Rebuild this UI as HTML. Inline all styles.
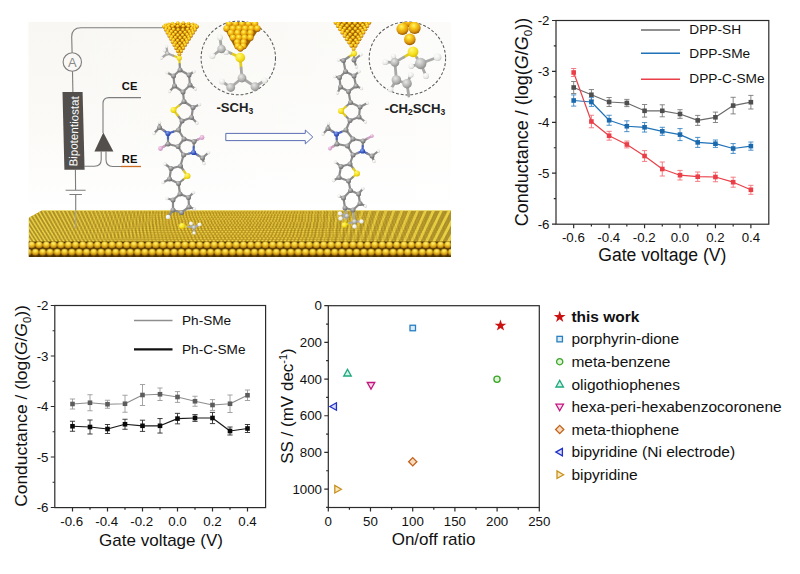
<!DOCTYPE html>
<html><head><meta charset="utf-8"><title>Figure</title>
<style>
html,body{margin:0;padding:0;background:#fff;}
body{width:800px;height:574px;overflow:hidden;font-family:"Liberation Sans",sans-serif;}
svg{display:block;}
</style></head><body>
<svg width="800" height="574" viewBox="0 0 800 574">

<defs>
<linearGradient id="pbg" x1="0" y1="0" x2="0" y2="1">
<stop offset="0" stop-color="#f8f7f3"/><stop offset="0.45" stop-color="#fbfaf7"/><stop offset="0.8" stop-color="#ffffff"/><stop offset="1" stop-color="#ffffff"/>
</linearGradient>
<linearGradient id="pbg2" x1="0" y1="0" x2="1" y2="0">
<stop offset="0" stop-color="#ffffff" stop-opacity="0"/><stop offset="0.5" stop-color="#ffffff" stop-opacity="0.25"/><stop offset="1" stop-color="#ffffff" stop-opacity="0.55"/>
</linearGradient>
<radialGradient id="gC" cx="0.38" cy="0.32" r="0.75"><stop offset="0" stop-color="#c9c9c9"/><stop offset="0.55" stop-color="#8f8f8f"/><stop offset="1" stop-color="#5e5e5e"/></radialGradient>
<radialGradient id="gL" cx="0.38" cy="0.32" r="0.8"><stop offset="0" stop-color="#e8e8e6"/><stop offset="0.55" stop-color="#b4b4b2"/><stop offset="1" stop-color="#7c7c7a"/></radialGradient>
<radialGradient id="gH" cx="0.38" cy="0.32" r="0.8"><stop offset="0" stop-color="#ffffff"/><stop offset="0.6" stop-color="#e9e9e6"/><stop offset="1" stop-color="#b9b9b4"/></radialGradient>
<radialGradient id="gS" cx="0.38" cy="0.32" r="0.8"><stop offset="0" stop-color="#fff87a"/><stop offset="0.55" stop-color="#f6e01c"/><stop offset="1" stop-color="#cfae08"/></radialGradient>
<radialGradient id="gN" cx="0.38" cy="0.32" r="0.8"><stop offset="0" stop-color="#8aa2ec"/><stop offset="0.55" stop-color="#3c5cc4"/><stop offset="1" stop-color="#1f3590"/></radialGradient>
<radialGradient id="gO" cx="0.38" cy="0.32" r="0.8"><stop offset="0" stop-color="#f6d6ee"/><stop offset="0.6" stop-color="#dca6cf"/><stop offset="1" stop-color="#b980ac"/></radialGradient>
<radialGradient id="gA" cx="0.42" cy="0.3" r="0.72"><stop offset="0" stop-color="#fff470"/><stop offset="0.3" stop-color="#fad022"/><stop offset="0.68" stop-color="#e09a0a"/><stop offset="1" stop-color="#8a4c00"/></radialGradient>
<radialGradient id="gF" cx="0.48" cy="0.26" r="0.8"><stop offset="0" stop-color="#fff384"/><stop offset="0.33" stop-color="#f7d232"/><stop offset="0.7" stop-color="#c89010"/><stop offset="1" stop-color="#5e3a02"/></radialGradient>
<radialGradient id="gT" cx="0.5" cy="0.35" r="0.65"><stop offset="0" stop-color="#f6e05a"/><stop offset="0.55" stop-color="#dcb830"/><stop offset="1" stop-color="#ae8a1c"/></radialGradient>
<filter id="bl" x="-5%" y="-5%" width="110%" height="110%"><feGaussianBlur stdDeviation="0.45"/></filter>
<filter id="bl2" x="-5%" y="-5%" width="110%" height="110%"><feGaussianBlur stdDeviation="0.35"/></filter>
<clipPath id="pc"><rect x="28.5" y="22" width="422.5" height="236"/></clipPath>
</defs>

<rect width="800" height="574" fill="#fff"/>
<rect x="28.5" y="22" width="422.5" height="236" fill="url(#pbg)"/>
<rect x="28.5" y="22" width="422.5" height="236" fill="url(#pbg2)"/>
<g fill="none" stroke="#7d7d7d" stroke-width="1.1">
<path d="M162.5 27.7H81Q71.7 27.7 71.7 36.8L72.1 52.8"/>
<circle cx="72.3" cy="62" r="9.2"/>
<path d="M72.5 71.2L72.9 92"/>
<path d="M75.4 169.5L75.6 190.2M65.6 190.2H85.6M69.4 194.5H81.9"/>
<path d="M141 97.6H109Q103 97.6 103 103.6V133"/>
<path d="M84.4 166.2H94.5Q101.2 166.2 101.2 159.5V151.4"/>
<path d="M106 151.4V159.5Q106 166.5 112.8 166.5H121.5"/>
</g>
<path d="M120.8 166.5H141" stroke="#cc6a22" stroke-width="1.3"/>
<text x="72.3" y="66.6" font-size="13" text-anchor="middle" fill="#8a8a8a" font-family="Liberation Sans, sans-serif">A</text>
<polygon points="62.5,91.9 82.6,91.9 84.6,169.7 64.4,169.7" fill="#524f4d"/>
<text transform="translate(78 131.5) rotate(-88.6)" font-size="11.6" text-anchor="middle" fill="#fff" font-family="Liberation Sans, sans-serif">Bipotentiostat</text>
<polygon points="103.3,132.4 113.4,151.6 94.4,151.6" fill="#524f4d"/>
<text x="121.8" y="90" font-size="11.2" font-weight="bold" fill="#111" font-family="Liberation Sans, sans-serif">CE</text>
<text x="121.8" y="162.5" font-size="11.2" font-weight="bold" fill="#111" font-family="Liberation Sans, sans-serif">RE</text>
<defs><clipPath id="tf"><polygon points="28.5,217.8 42,210.2 451,210.2 451,243 28.5,243"/></clipPath><linearGradient id="mg" x1="28.5" y1="0" x2="451" y2="0" gradientUnits="userSpaceOnUse"><stop offset="0" stop-color="#fff" stop-opacity="0.12"/><stop offset="0.2" stop-color="#fff" stop-opacity="0.5"/><stop offset="0.4" stop-color="#fff" stop-opacity="1"/><stop offset="0.6" stop-color="#fff" stop-opacity="1"/><stop offset="0.8" stop-color="#fff" stop-opacity="0.5"/><stop offset="1" stop-color="#fff" stop-opacity="0.12"/></linearGradient><mask id="mk" maskUnits="userSpaceOnUse" x="28" y="205" width="424" height="40"><rect x="28" y="205" width="424" height="40" fill="url(#mg)"/></mask><pattern id="sr0" x="2.52" y="209.93" width="2.95" height="2.8" patternUnits="userSpaceOnUse"><ellipse cx="1.48" cy="1.4" rx="1.39" ry="1.29" fill="url(#gT)"/></pattern><pattern id="sr1" x="2.44" y="211.79" width="3.01" height="2.85" patternUnits="userSpaceOnUse"><ellipse cx="1.5" cy="1.43" rx="1.41" ry="1.31" fill="url(#gT)"/></pattern><pattern id="sr2" x="2.52" y="213.69" width="3.06" height="2.91" patternUnits="userSpaceOnUse"><ellipse cx="1.53" cy="1.45" rx="1.44" ry="1.34" fill="url(#gT)"/></pattern><pattern id="sr3" x="2.77" y="215.62" width="3.12" height="2.96" patternUnits="userSpaceOnUse"><ellipse cx="1.56" cy="1.48" rx="1.47" ry="1.36" fill="url(#gT)"/></pattern><pattern id="sr4" x="0.02" y="217.58" width="3.18" height="3.02" patternUnits="userSpaceOnUse"><ellipse cx="1.59" cy="1.51" rx="1.49" ry="1.39" fill="url(#gT)"/></pattern><pattern id="sr5" x="0.56" y="219.58" width="3.24" height="3.07" patternUnits="userSpaceOnUse"><ellipse cx="1.62" cy="1.54" rx="1.52" ry="1.41" fill="url(#gT)"/></pattern><pattern id="sr6" x="1.27" y="221.62" width="3.29" height="3.13" patternUnits="userSpaceOnUse"><ellipse cx="1.65" cy="1.56" rx="1.55" ry="1.44" fill="url(#gT)"/></pattern><pattern id="sr7" x="2.15" y="223.7" width="3.35" height="3.18" patternUnits="userSpaceOnUse"><ellipse cx="1.68" cy="1.59" rx="1.57" ry="1.46" fill="url(#gT)"/></pattern><pattern id="sr8" x="3.2" y="225.81" width="3.41" height="3.23" patternUnits="userSpaceOnUse"><ellipse cx="1.7" cy="1.62" rx="1.6" ry="1.49" fill="url(#gT)"/></pattern><pattern id="sr9" x="0.96" y="227.96" width="3.46" height="3.29" patternUnits="userSpaceOnUse"><ellipse cx="1.73" cy="1.64" rx="1.63" ry="1.51" fill="url(#gT)"/></pattern><pattern id="sr10" x="2.3" y="230.14" width="3.52" height="3.34" patternUnits="userSpaceOnUse"><ellipse cx="1.76" cy="1.67" rx="1.66" ry="1.54" fill="url(#gT)"/></pattern><pattern id="sr11" x="0.24" y="232.36" width="3.58" height="3.4" patternUnits="userSpaceOnUse"><ellipse cx="1.79" cy="1.7" rx="1.68" ry="1.56" fill="url(#gT)"/></pattern><pattern id="sr12" x="1.86" y="234.61" width="3.64" height="3.45" patternUnits="userSpaceOnUse"><ellipse cx="1.82" cy="1.73" rx="1.71" ry="1.59" fill="url(#gT)"/></pattern><pattern id="sr13" x="3.66" y="236.91" width="3.69" height="3.51" patternUnits="userSpaceOnUse"><ellipse cx="1.85" cy="1.75" rx="1.74" ry="1.61" fill="url(#gT)"/></pattern><pattern id="sr14" x="1.88" y="239.23" width="3.75" height="3.56" patternUnits="userSpaceOnUse"><ellipse cx="1.88" cy="1.78" rx="1.76" ry="1.64" fill="url(#gT)"/></pattern><pattern id="fr0" x="20.75" y="241.1" width="7.3" height="8" patternUnits="userSpaceOnUse"><circle cx="3.65" cy="4" r="3.6" fill="url(#gF)"/></pattern><pattern id="fr1" x="24.4" y="248.3" width="7.3" height="8" patternUnits="userSpaceOnUse"><circle cx="3.65" cy="4" r="3.6" fill="url(#gF)"/></pattern></defs><g clip-path="url(#pc)"><g filter="url(#bl2)"><g clip-path="url(#tf)"><polygon points="28.5,217.8 42,210.2 451,210.2 451,243 28.5,243" fill="#a88e2a"/><path d="M221.5 242.6L219.56 210M228.8 242.6L227.62 210M236.1 242.6L235.69 210M243.4 242.6L243.69 210M250.7 242.6L251.61 210M258 242.6L259.53 210M265.3 242.6L267.45 210M272.6 242.6L275.37 210M279.9 242.6L283.29 210M287.2 242.6L291.21 210M294.5 242.6L299.13 210M301.8 242.6L307.05 210M309.1 242.6L314.97 210M316.4 242.6L322.89 210M323.7 242.6L330.81 210M331 242.6L338.74 210M338.3 242.6L346.66 210M345.6 242.6L354.58 210M352.9 242.6L362.5 210M360.2 242.6L370.42 210M367.5 242.6L378.34 210M374.8 242.6L386.26 210M382.1 242.6L394.18 210M389.4 242.6L402.1 210M396.7 242.6L410.02 210M404 242.6L417.94 210M411.3 242.6L425.86 210M418.6 242.6L433.78 210M425.9 242.6L441.7 210M433.2 242.6L449.62 210M440.5 242.6L457.54 210M447.8 242.6L465.46 210M455.1 242.6L473.38 210M462.4 242.6L481.3 210M469.7 242.6L489.22 210M477 242.6L497.14 210" stroke="#f0d648" stroke-width="2.7" fill="none"/><path d="M17.1 242.6L-6.3 210M20.75 242.6L-2.27 210M24.4 242.6L1.76 210M28.05 242.6L5.8 210M31.7 242.6L9.83 210M35.35 242.6L13.86 210M39 242.6L17.9 210M42.65 242.6L21.93 210M46.3 242.6L25.96 210M49.95 242.6L29.99 210M53.6 242.6L34.03 210M57.25 242.6L38.06 210M60.9 242.6L42.09 210M64.55 242.6L46.13 210M68.2 242.6L50.16 210M71.85 242.6L54.19 210M75.5 242.6L58.23 210M79.15 242.6L62.26 210M82.8 242.6L66.29 210M86.45 242.6L70.33 210M90.1 242.6L74.36 210M93.75 242.6L78.39 210M97.4 242.6L82.43 210M101.05 242.6L86.46 210M104.7 242.6L90.49 210M108.35 242.6L94.53 210M112 242.6L98.56 210M115.65 242.6L102.59 210M119.3 242.6L106.63 210M122.95 242.6L110.66 210M126.6 242.6L114.69 210M130.25 242.6L118.73 210M133.9 242.6L122.76 210M137.55 242.6L126.79 210M141.2 242.6L130.83 210M144.85 242.6L134.86 210M148.5 242.6L138.89 210M152.15 242.6L142.93 210M155.8 242.6L146.96 210M159.45 242.6L150.99 210M163.1 242.6L155.03 210M166.75 242.6L159.06 210M170.4 242.6L163.09 210M174.05 242.6L167.13 210M177.7 242.6L171.16 210M181.35 242.6L175.19 210M185 242.6L179.22 210M188.65 242.6L183.26 210M192.3 242.6L187.29 210M195.95 242.6L191.32 210M199.6 242.6L195.36 210M203.25 242.6L199.39 210M206.9 242.6L203.42 210M210.55 242.6L207.46 210M214.2 242.6L211.49 210M217.85 242.6L215.52 210" stroke="#f0d648" stroke-width="1.5" fill="none"/></g>
<g clip-path="url(#tf)"><g mask="url(#mk)"><polygon points="28.5,217.8 42,210.2 451,210.2 451,243 28.5,243" fill="#8a690c"/><rect x="28.5" y="209.93" width="422.5" height="2.8" fill="url(#sr0)"/><rect x="28.5" y="211.79" width="422.5" height="2.85" fill="url(#sr1)"/><rect x="28.5" y="213.69" width="422.5" height="2.91" fill="url(#sr2)"/><rect x="28.5" y="215.62" width="422.5" height="2.96" fill="url(#sr3)"/><rect x="28.5" y="217.58" width="422.5" height="3.02" fill="url(#sr4)"/><rect x="28.5" y="219.58" width="422.5" height="3.07" fill="url(#sr5)"/><rect x="28.5" y="221.62" width="422.5" height="3.13" fill="url(#sr6)"/><rect x="28.5" y="223.7" width="422.5" height="3.18" fill="url(#sr7)"/><rect x="28.5" y="225.81" width="422.5" height="3.23" fill="url(#sr8)"/><rect x="28.5" y="227.96" width="422.5" height="3.29" fill="url(#sr9)"/><rect x="28.5" y="230.14" width="422.5" height="3.34" fill="url(#sr10)"/><rect x="28.5" y="232.36" width="422.5" height="3.4" fill="url(#sr11)"/><rect x="28.5" y="234.61" width="422.5" height="3.45" fill="url(#sr12)"/><rect x="28.5" y="236.91" width="422.5" height="3.51" fill="url(#sr13)"/><rect x="28.5" y="239.23" width="422.5" height="3.56" fill="url(#sr14)"/></g></g>
<path d="M42 210.5H451" stroke="#f3e27a" stroke-width="0.9" opacity="0.8"/>
<rect x="28.5" y="241.6" width="422.5" height="15.4" fill="#4a2e02"/>
<rect x="28.5" y="241.1" width="422.5" height="8" fill="url(#fr0)"/>
<rect x="28.5" y="248.3" width="422.5" height="8" fill="url(#fr1)"/></g></g>
<path d="M75.7 194.5V210.5" stroke="#7d7d7d" stroke-width="1.1" fill="none"/><path d="M75.7 210.5V228.5" stroke="#a8a49a" stroke-width="1" fill="none"/>
<path d="M225.8 133.4H305.3V130L312.8 137L305.3 143.9V140.6H225.8Z" fill="#fdfdfb" stroke="#5a6eb2" stroke-width="1"/>
<ellipse cx="238.3" cy="58" rx="37.2" ry="36.8" fill="none" stroke="#5a5a5a" stroke-width="1.05" stroke-dasharray="2.9 1.9"/>
<ellipse cx="407.4" cy="58.4" rx="38.2" ry="36.5" fill="none" stroke="#5a5a5a" stroke-width="1.05" stroke-dasharray="2.9 1.9"/>
<g filter="url(#bl)"><path d="M164 26.6L179.4 54.15L197 26.6A16.5 3.6 0 0 0 164 26.6Z" fill="#9c6000"/>
<circle cx="164.5" cy="26.6" r="1.85" fill="url(#gA)"/>
<circle cx="165.46" cy="25.37" r="1.85" fill="url(#gA)"/>
<circle cx="168.24" cy="24.29" r="1.85" fill="url(#gA)"/>
<circle cx="172.5" cy="23.48" r="1.85" fill="url(#gA)"/>
<circle cx="177.72" cy="23.05" r="1.85" fill="url(#gA)"/>
<circle cx="183.28" cy="23.05" r="1.85" fill="url(#gA)"/>
<circle cx="188.5" cy="23.48" r="1.85" fill="url(#gA)"/>
<circle cx="192.76" cy="24.29" r="1.85" fill="url(#gA)"/>
<circle cx="195.54" cy="25.37" r="1.85" fill="url(#gA)"/>
<circle cx="196.5" cy="26.6" r="1.85" fill="url(#gA)"/>
<circle cx="164.5" cy="26.6" r="1.85" fill="url(#gA)"/>
<circle cx="165.71" cy="25.84" r="1.85" fill="url(#gA)"/>
<circle cx="169.18" cy="25.2" r="1.85" fill="url(#gA)"/>
<circle cx="174.38" cy="24.77" r="1.85" fill="url(#gA)"/>
<circle cx="180.5" cy="24.62" r="1.85" fill="url(#gA)"/>
<circle cx="186.62" cy="24.77" r="1.85" fill="url(#gA)"/>
<circle cx="191.82" cy="25.2" r="1.85" fill="url(#gA)"/>
<circle cx="195.29" cy="25.84" r="1.85" fill="url(#gA)"/>
<circle cx="196.5" cy="26.6" r="1.85" fill="url(#gA)"/>
<circle cx="164.5" cy="26.6" r="1.85" fill="url(#gA)"/>
<circle cx="165.46" cy="26.48" r="1.85" fill="url(#gA)"/>
<circle cx="168.24" cy="26.37" r="1.85" fill="url(#gA)"/>
<circle cx="172.5" cy="26.29" r="1.85" fill="url(#gA)"/>
<circle cx="177.72" cy="26.25" r="1.85" fill="url(#gA)"/>
<circle cx="183.28" cy="26.25" r="1.85" fill="url(#gA)"/>
<circle cx="188.5" cy="26.29" r="1.85" fill="url(#gA)"/>
<circle cx="192.76" cy="26.37" r="1.85" fill="url(#gA)"/>
<circle cx="195.54" cy="26.48" r="1.85" fill="url(#gA)"/>
<circle cx="196.5" cy="26.6" r="1.85" fill="url(#gA)"/>
<circle cx="164" cy="26.6" r="1.85" fill="url(#gA)"/>
<circle cx="166.2" cy="27.71" r="1.85" fill="url(#gA)"/>
<circle cx="169.42" cy="28.68" r="1.85" fill="url(#gA)"/>
<circle cx="173.49" cy="29.41" r="1.85" fill="url(#gA)"/>
<circle cx="178.1" cy="29.79" r="1.85" fill="url(#gA)"/>
<circle cx="182.9" cy="29.79" r="1.85" fill="url(#gA)"/>
<circle cx="187.51" cy="29.41" r="1.85" fill="url(#gA)"/>
<circle cx="191.58" cy="28.68" r="1.85" fill="url(#gA)"/>
<circle cx="194.8" cy="27.71" r="1.85" fill="url(#gA)"/>
<circle cx="197" cy="26.6" r="1.85" fill="url(#gA)"/>
<circle cx="165.71" cy="29.66" r="1.85" fill="url(#gA)"/>
<circle cx="167.98" cy="30.76" r="1.85" fill="url(#gA)"/>
<circle cx="171.37" cy="31.7" r="1.85" fill="url(#gA)"/>
<circle cx="175.64" cy="32.32" r="1.85" fill="url(#gA)"/>
<circle cx="180.38" cy="32.54" r="1.85" fill="url(#gA)"/>
<circle cx="185.11" cy="32.32" r="1.85" fill="url(#gA)"/>
<circle cx="189.38" cy="31.7" r="1.85" fill="url(#gA)"/>
<circle cx="192.78" cy="30.76" r="1.85" fill="url(#gA)"/>
<circle cx="195.04" cy="29.66" r="1.85" fill="url(#gA)"/>
<circle cx="167.42" cy="32.72" r="1.85" fill="url(#gA)"/>
<circle cx="169.77" cy="33.82" r="1.85" fill="url(#gA)"/>
<circle cx="173.38" cy="34.69" r="1.85" fill="url(#gA)"/>
<circle cx="177.86" cy="35.18" r="1.85" fill="url(#gA)"/>
<circle cx="182.65" cy="35.18" r="1.85" fill="url(#gA)"/>
<circle cx="187.13" cy="34.69" r="1.85" fill="url(#gA)"/>
<circle cx="190.74" cy="33.82" r="1.85" fill="url(#gA)"/>
<circle cx="193.09" cy="32.72" r="1.85" fill="url(#gA)"/>
<circle cx="169.13" cy="35.78" r="1.85" fill="url(#gA)"/>
<circle cx="171.59" cy="36.86" r="1.85" fill="url(#gA)"/>
<circle cx="175.46" cy="37.65" r="1.85" fill="url(#gA)"/>
<circle cx="180.13" cy="37.94" r="1.85" fill="url(#gA)"/>
<circle cx="184.81" cy="37.65" r="1.85" fill="url(#gA)"/>
<circle cx="188.67" cy="36.86" r="1.85" fill="url(#gA)"/>
<circle cx="191.13" cy="35.78" r="1.85" fill="url(#gA)"/>
<circle cx="170.84" cy="38.84" r="1.85" fill="url(#gA)"/>
<circle cx="173.46" cy="39.9" r="1.85" fill="url(#gA)"/>
<circle cx="177.63" cy="40.56" r="1.85" fill="url(#gA)"/>
<circle cx="182.39" cy="40.56" r="1.85" fill="url(#gA)"/>
<circle cx="186.56" cy="39.9" r="1.85" fill="url(#gA)"/>
<circle cx="189.18" cy="38.84" r="1.85" fill="url(#gA)"/>
<circle cx="172.56" cy="41.91" r="1.85" fill="url(#gA)"/>
<circle cx="175.39" cy="42.92" r="1.85" fill="url(#gA)"/>
<circle cx="179.89" cy="43.35" r="1.85" fill="url(#gA)"/>
<circle cx="184.39" cy="42.92" r="1.85" fill="url(#gA)"/>
<circle cx="187.22" cy="41.91" r="1.85" fill="url(#gA)"/>
<circle cx="174.27" cy="44.97" r="1.85" fill="url(#gA)"/>
<circle cx="177.43" cy="45.9" r="1.85" fill="url(#gA)"/>
<circle cx="182.1" cy="45.9" r="1.85" fill="url(#gA)"/>
<circle cx="185.27" cy="44.97" r="1.85" fill="url(#gA)"/>
<circle cx="175.98" cy="48.03" r="1.85" fill="url(#gA)"/>
<circle cx="179.64" cy="48.75" r="1.85" fill="url(#gA)"/>
<circle cx="183.31" cy="48.03" r="1.85" fill="url(#gA)"/>
<circle cx="177.69" cy="51.09" r="1.85" fill="url(#gA)"/>
<circle cx="181.36" cy="51.09" r="1.85" fill="url(#gA)"/>
<circle cx="179.4" cy="54.15" r="1.85" fill="url(#gA)"/>
<g clip-path="url(#pc)">
<path d="M333.3 19.5L353.6 49.05L371.3 19.5A19 4.2 0 0 0 333.3 19.5Z" fill="#9c6000"/>
<circle cx="333.87" cy="19.5" r="1.95" fill="url(#gA)"/>
<circle cx="334.98" cy="18.06" r="1.95" fill="url(#gA)"/>
<circle cx="338.18" cy="16.8" r="1.95" fill="url(#gA)"/>
<circle cx="343.09" cy="15.86" r="1.95" fill="url(#gA)"/>
<circle cx="349.1" cy="15.36" r="1.95" fill="url(#gA)"/>
<circle cx="355.5" cy="15.36" r="1.95" fill="url(#gA)"/>
<circle cx="361.51" cy="15.86" r="1.95" fill="url(#gA)"/>
<circle cx="366.42" cy="16.8" r="1.95" fill="url(#gA)"/>
<circle cx="369.62" cy="18.06" r="1.95" fill="url(#gA)"/>
<circle cx="370.73" cy="19.5" r="1.95" fill="url(#gA)"/>
<circle cx="333.87" cy="19.5" r="1.95" fill="url(#gA)"/>
<circle cx="335.27" cy="18.62" r="1.95" fill="url(#gA)"/>
<circle cx="339.27" cy="17.87" r="1.95" fill="url(#gA)"/>
<circle cx="345.25" cy="17.37" r="1.95" fill="url(#gA)"/>
<circle cx="352.3" cy="17.19" r="1.95" fill="url(#gA)"/>
<circle cx="359.35" cy="17.37" r="1.95" fill="url(#gA)"/>
<circle cx="365.33" cy="17.87" r="1.95" fill="url(#gA)"/>
<circle cx="369.33" cy="18.62" r="1.95" fill="url(#gA)"/>
<circle cx="370.73" cy="19.5" r="1.95" fill="url(#gA)"/>
<circle cx="333.87" cy="19.5" r="1.95" fill="url(#gA)"/>
<circle cx="334.98" cy="19.36" r="1.95" fill="url(#gA)"/>
<circle cx="338.18" cy="19.23" r="1.95" fill="url(#gA)"/>
<circle cx="343.09" cy="19.14" r="1.95" fill="url(#gA)"/>
<circle cx="349.1" cy="19.09" r="1.95" fill="url(#gA)"/>
<circle cx="355.5" cy="19.09" r="1.95" fill="url(#gA)"/>
<circle cx="361.51" cy="19.14" r="1.95" fill="url(#gA)"/>
<circle cx="366.42" cy="19.23" r="1.95" fill="url(#gA)"/>
<circle cx="369.62" cy="19.36" r="1.95" fill="url(#gA)"/>
<circle cx="370.73" cy="19.5" r="1.95" fill="url(#gA)"/>
<circle cx="333.3" cy="19.5" r="1.95" fill="url(#gA)"/>
<circle cx="335.83" cy="20.79" r="1.95" fill="url(#gA)"/>
<circle cx="339.54" cy="21.93" r="1.95" fill="url(#gA)"/>
<circle cx="344.23" cy="22.77" r="1.95" fill="url(#gA)"/>
<circle cx="349.54" cy="23.22" r="1.95" fill="url(#gA)"/>
<circle cx="355.06" cy="23.22" r="1.95" fill="url(#gA)"/>
<circle cx="360.38" cy="22.77" r="1.95" fill="url(#gA)"/>
<circle cx="365.06" cy="21.93" r="1.95" fill="url(#gA)"/>
<circle cx="368.77" cy="20.79" r="1.95" fill="url(#gA)"/>
<circle cx="371.3" cy="19.5" r="1.95" fill="url(#gA)"/>
<circle cx="335.56" cy="22.78" r="1.95" fill="url(#gA)"/>
<circle cx="338.16" cy="24.07" r="1.95" fill="url(#gA)"/>
<circle cx="342.08" cy="25.16" r="1.95" fill="url(#gA)"/>
<circle cx="346.99" cy="25.89" r="1.95" fill="url(#gA)"/>
<circle cx="352.44" cy="26.14" r="1.95" fill="url(#gA)"/>
<circle cx="357.9" cy="25.89" r="1.95" fill="url(#gA)"/>
<circle cx="362.81" cy="25.16" r="1.95" fill="url(#gA)"/>
<circle cx="366.73" cy="24.07" r="1.95" fill="url(#gA)"/>
<circle cx="369.33" cy="22.78" r="1.95" fill="url(#gA)"/>
<circle cx="337.81" cy="26.07" r="1.95" fill="url(#gA)"/>
<circle cx="340.52" cy="27.34" r="1.95" fill="url(#gA)"/>
<circle cx="344.67" cy="28.37" r="1.95" fill="url(#gA)"/>
<circle cx="349.83" cy="28.93" r="1.95" fill="url(#gA)"/>
<circle cx="355.35" cy="28.93" r="1.95" fill="url(#gA)"/>
<circle cx="360.51" cy="28.37" r="1.95" fill="url(#gA)"/>
<circle cx="364.66" cy="27.34" r="1.95" fill="url(#gA)"/>
<circle cx="367.37" cy="26.07" r="1.95" fill="url(#gA)"/>
<circle cx="340.07" cy="29.35" r="1.95" fill="url(#gA)"/>
<circle cx="342.9" cy="30.61" r="1.95" fill="url(#gA)"/>
<circle cx="347.35" cy="31.53" r="1.95" fill="url(#gA)"/>
<circle cx="352.73" cy="31.87" r="1.95" fill="url(#gA)"/>
<circle cx="358.12" cy="31.53" r="1.95" fill="url(#gA)"/>
<circle cx="362.57" cy="30.61" r="1.95" fill="url(#gA)"/>
<circle cx="365.4" cy="29.35" r="1.95" fill="url(#gA)"/>
<circle cx="342.32" cy="32.63" r="1.95" fill="url(#gA)"/>
<circle cx="345.33" cy="33.87" r="1.95" fill="url(#gA)"/>
<circle cx="350.13" cy="34.63" r="1.95" fill="url(#gA)"/>
<circle cx="355.62" cy="34.63" r="1.95" fill="url(#gA)"/>
<circle cx="360.42" cy="33.87" r="1.95" fill="url(#gA)"/>
<circle cx="363.43" cy="32.63" r="1.95" fill="url(#gA)"/>
<circle cx="344.58" cy="35.92" r="1.95" fill="url(#gA)"/>
<circle cx="347.84" cy="37.1" r="1.95" fill="url(#gA)"/>
<circle cx="353.02" cy="37.6" r="1.95" fill="url(#gA)"/>
<circle cx="358.21" cy="37.1" r="1.95" fill="url(#gA)"/>
<circle cx="361.47" cy="35.92" r="1.95" fill="url(#gA)"/>
<circle cx="346.83" cy="39.2" r="1.95" fill="url(#gA)"/>
<circle cx="350.48" cy="40.29" r="1.95" fill="url(#gA)"/>
<circle cx="355.86" cy="40.29" r="1.95" fill="url(#gA)"/>
<circle cx="359.5" cy="39.2" r="1.95" fill="url(#gA)"/>
<circle cx="349.09" cy="42.48" r="1.95" fill="url(#gA)"/>
<circle cx="353.31" cy="43.32" r="1.95" fill="url(#gA)"/>
<circle cx="357.53" cy="42.48" r="1.95" fill="url(#gA)"/>
<circle cx="351.34" cy="45.77" r="1.95" fill="url(#gA)"/>
<circle cx="355.57" cy="45.77" r="1.95" fill="url(#gA)"/>
<circle cx="353.6" cy="49.05" r="1.95" fill="url(#gA)"/>
<path d="M224 27.5Q242 16 260 27.5L247 47L240.3 51.5L234.5 47Z" fill="#9c6000"/>
<circle cx="229" cy="24.0" r="3.3" fill="url(#gA)"/>
<circle cx="235.5" cy="24.0" r="3.3" fill="url(#gA)"/>
<circle cx="242" cy="24.0" r="3.3" fill="url(#gA)"/>
<circle cx="248.5" cy="24.0" r="3.3" fill="url(#gA)"/>
<circle cx="255" cy="24.0" r="3.3" fill="url(#gA)"/>
<circle cx="226.7" cy="28.6" r="3.4" fill="url(#gA)"/>
<circle cx="232.9" cy="28.6" r="3.4" fill="url(#gA)"/>
<circle cx="239" cy="28.6" r="3.4" fill="url(#gA)"/>
<circle cx="245.2" cy="28.6" r="3.4" fill="url(#gA)"/>
<circle cx="251.3" cy="28.6" r="3.4" fill="url(#gA)"/>
<circle cx="257.3" cy="28.6" r="3.4" fill="url(#gA)"/>
<circle cx="231" cy="33.2" r="3.4" fill="url(#gA)"/>
<circle cx="237.5" cy="33.2" r="3.4" fill="url(#gA)"/>
<circle cx="244" cy="33.2" r="3.4" fill="url(#gA)"/>
<circle cx="250.5" cy="33.2" r="3.4" fill="url(#gA)"/>
<circle cx="233" cy="37.8" r="3.3" fill="url(#gA)"/>
<circle cx="238.8" cy="37.8" r="3.3" fill="url(#gA)"/>
<circle cx="244.6" cy="37.8" r="3.3" fill="url(#gA)"/>
<circle cx="250.3" cy="37.8" r="3.3" fill="url(#gA)"/>
<circle cx="237.2" cy="42.4" r="3.3" fill="url(#gA)"/>
<circle cx="243.6" cy="42.4" r="3.3" fill="url(#gA)"/>
<circle cx="237.6" cy="46.3" r="3.2" fill="url(#gA)"/>
<circle cx="243.4" cy="46.3" r="3.2" fill="url(#gA)"/>
<circle cx="240.4" cy="48.4" r="3.1" fill="url(#gA)"/>
<circle cx="408.5" cy="21.5" r="5.6" fill="url(#gA)"/>
<circle cx="402.5" cy="29.0" r="6.1" fill="url(#gA)"/>
<circle cx="414.6" cy="28.0" r="6.1" fill="url(#gA)"/>
<circle cx="409.8" cy="39.4" r="5.8" fill="url(#gA)"/>
</g>
<path d="M179.3 58L173.4 55.75" stroke="#e2cc20" stroke-width="2.2" stroke-linecap="round"/>
<path d="M173.4 55.75L167.5 53.5" stroke="#a8a8a6" stroke-width="2.2" stroke-linecap="round"/>
<path d="M167.5 53.5L166.5 46.5" stroke="#a8a8a6" stroke-width="2.2" stroke-linecap="round"/>
<path d="M167.5 53.5L161.5 58" stroke="#a8a8a6" stroke-width="2.2" stroke-linecap="round"/>
<path d="M167.5 53.5L164.5 50.5" stroke="#a8a8a6" stroke-width="2.2" stroke-linecap="round"/>
<path d="M179.3 58L179.65 64" stroke="#e2cc20" stroke-width="2.2" stroke-linecap="round"/>
<path d="M179.65 64L180 70" stroke="#8c8c8c" stroke-width="2.2" stroke-linecap="round"/>
<path d="M180 70L189 75" stroke="#8c8c8c" stroke-width="2.2" stroke-linecap="round"/>
<path d="M189 75L190 85" stroke="#8c8c8c" stroke-width="2.2" stroke-linecap="round"/>
<path d="M190 85L183 92" stroke="#8c8c8c" stroke-width="2.2" stroke-linecap="round"/>
<path d="M183 92L174.5 86" stroke="#8c8c8c" stroke-width="2.2" stroke-linecap="round"/>
<path d="M174.5 86L173.5 76" stroke="#8c8c8c" stroke-width="2.2" stroke-linecap="round"/>
<path d="M173.5 76L180 70" stroke="#8c8c8c" stroke-width="2.2" stroke-linecap="round"/>
<path d="M189 75L194 71.5" stroke="#8c8c8c" stroke-width="2.2" stroke-linecap="round"/>
<path d="M190 85L195.5 89" stroke="#8c8c8c" stroke-width="2.2" stroke-linecap="round"/>
<path d="M174.5 86L169.5 91.5" stroke="#8c8c8c" stroke-width="2.2" stroke-linecap="round"/>
<path d="M173.5 76L167 72.5" stroke="#8c8c8c" stroke-width="2.2" stroke-linecap="round"/>
<path d="M183 92L184 101.5" stroke="#8c8c8c" stroke-width="2.2" stroke-linecap="round"/>
<path d="M184 101.5L178.75 105.75" stroke="#8c8c8c" stroke-width="2.2" stroke-linecap="round"/>
<path d="M178.75 105.75L173.5 110" stroke="#e2cc20" stroke-width="2.2" stroke-linecap="round"/>
<path d="M184 101.5L193 107.5" stroke="#8c8c8c" stroke-width="2.2" stroke-linecap="round"/>
<path d="M193 107.5L191.5 117.5" stroke="#8c8c8c" stroke-width="2.2" stroke-linecap="round"/>
<path d="M191.5 117.5L182 121" stroke="#8c8c8c" stroke-width="2.2" stroke-linecap="round"/>
<path d="M182 121L177.75 115.5" stroke="#8c8c8c" stroke-width="2.2" stroke-linecap="round"/>
<path d="M177.75 115.5L173.5 110" stroke="#e2cc20" stroke-width="2.2" stroke-linecap="round"/>
<path d="M193 107.5L199.5 104.5" stroke="#8c8c8c" stroke-width="2.2" stroke-linecap="round"/>
<path d="M191.5 117.5L197 123" stroke="#8c8c8c" stroke-width="2.2" stroke-linecap="round"/>
<path d="M182 121L178.5 130" stroke="#8c8c8c" stroke-width="2.2" stroke-linecap="round"/>
<path d="M178.5 130L173.25 131.75" stroke="#8c8c8c" stroke-width="2.2" stroke-linecap="round"/>
<path d="M173.25 131.75L168 133.5" stroke="#4a66c0" stroke-width="2.2" stroke-linecap="round"/>
<path d="M168 133.5L163.75 130.5" stroke="#4a66c0" stroke-width="2.2" stroke-linecap="round"/>
<path d="M163.75 130.5L159.5 127.5" stroke="#8c8c8c" stroke-width="2.2" stroke-linecap="round"/>
<path d="M159.5 127.5L159.5 122.5" stroke="#8c8c8c" stroke-width="2.2" stroke-linecap="round"/>
<path d="M159.5 127.5L154 133.5" stroke="#8c8c8c" stroke-width="2.2" stroke-linecap="round"/>
<path d="M178.5 130L184 139" stroke="#8c8c8c" stroke-width="2.2" stroke-linecap="round"/>
<path d="M184 139L194 141.5" stroke="#8c8c8c" stroke-width="2.2" stroke-linecap="round"/>
<path d="M194 141.5L198 139.5" stroke="#8c8c8c" stroke-width="2.2" stroke-linecap="round"/>
<path d="M198 139.5L202 137.5" stroke="#cfa0c4" stroke-width="2.2" stroke-linecap="round"/>
<path d="M194 141.5L193.75 147" stroke="#8c8c8c" stroke-width="2.2" stroke-linecap="round"/>
<path d="M193.75 147L193.5 152.5" stroke="#4a66c0" stroke-width="2.2" stroke-linecap="round"/>
<path d="M193.5 152.5L198 155.25" stroke="#4a66c0" stroke-width="2.2" stroke-linecap="round"/>
<path d="M198 155.25L202.5 158" stroke="#8c8c8c" stroke-width="2.2" stroke-linecap="round"/>
<path d="M202.5 158L208.5 152.5" stroke="#8c8c8c" stroke-width="2.2" stroke-linecap="round"/>
<path d="M202.5 158L204 163.5" stroke="#8c8c8c" stroke-width="2.2" stroke-linecap="round"/>
<path d="M193.5 152.5L188.5 153.75" stroke="#4a66c0" stroke-width="2.2" stroke-linecap="round"/>
<path d="M188.5 153.75L183.5 155" stroke="#8c8c8c" stroke-width="2.2" stroke-linecap="round"/>
<path d="M183.5 155L178 146.5" stroke="#8c8c8c" stroke-width="2.2" stroke-linecap="round"/>
<path d="M178 146.5L184 139" stroke="#8c8c8c" stroke-width="2.2" stroke-linecap="round"/>
<path d="M178 146.5L168 144" stroke="#8c8c8c" stroke-width="2.2" stroke-linecap="round"/>
<path d="M168 144L164.25 146.25" stroke="#8c8c8c" stroke-width="2.2" stroke-linecap="round"/>
<path d="M164.25 146.25L160.5 148.5" stroke="#cfa0c4" stroke-width="2.2" stroke-linecap="round"/>
<path d="M168 144L168 138.75" stroke="#8c8c8c" stroke-width="2.2" stroke-linecap="round"/>
<path d="M168 138.75L168 133.5" stroke="#4a66c0" stroke-width="2.2" stroke-linecap="round"/>
<path d="M183.5 155L180.5 166" stroke="#8c8c8c" stroke-width="2.2" stroke-linecap="round"/>
<path d="M180.5 166L184 171" stroke="#8c8c8c" stroke-width="2.2" stroke-linecap="round"/>
<path d="M184 171L187.5 176" stroke="#e2cc20" stroke-width="2.2" stroke-linecap="round"/>
<path d="M187.5 176L183 179.75" stroke="#e2cc20" stroke-width="2.2" stroke-linecap="round"/>
<path d="M183 179.75L178.5 183.5" stroke="#8c8c8c" stroke-width="2.2" stroke-linecap="round"/>
<path d="M178.5 183.5L169.5 179" stroke="#8c8c8c" stroke-width="2.2" stroke-linecap="round"/>
<path d="M169.5 179L171 168.5" stroke="#8c8c8c" stroke-width="2.2" stroke-linecap="round"/>
<path d="M171 168.5L180.5 166" stroke="#8c8c8c" stroke-width="2.2" stroke-linecap="round"/>
<path d="M171 168.5L165 164" stroke="#8c8c8c" stroke-width="2.2" stroke-linecap="round"/>
<path d="M169.5 179L163 182.5" stroke="#8c8c8c" stroke-width="2.2" stroke-linecap="round"/>
<path d="M178.5 183.5L180 194" stroke="#8c8c8c" stroke-width="2.2" stroke-linecap="round"/>
<path d="M180 194L188.5 197.5" stroke="#8c8c8c" stroke-width="2.2" stroke-linecap="round"/>
<path d="M188.5 197.5L189 207" stroke="#8c8c8c" stroke-width="2.2" stroke-linecap="round"/>
<path d="M189 207L181.5 212.5" stroke="#8c8c8c" stroke-width="2.2" stroke-linecap="round"/>
<path d="M181.5 212.5L173 210" stroke="#8c8c8c" stroke-width="2.2" stroke-linecap="round"/>
<path d="M173 210L173 200" stroke="#8c8c8c" stroke-width="2.2" stroke-linecap="round"/>
<path d="M173 200L180 194" stroke="#8c8c8c" stroke-width="2.2" stroke-linecap="round"/>
<path d="M188.5 197.5L193.5 192.5" stroke="#8c8c8c" stroke-width="2.2" stroke-linecap="round"/>
<path d="M173 200L167 198.5" stroke="#8c8c8c" stroke-width="2.2" stroke-linecap="round"/>
<path d="M189 207L194.5 209" stroke="#8c8c8c" stroke-width="2.2" stroke-linecap="round"/>
<path d="M173 210L168 217" stroke="#8c8c8c" stroke-width="2.2" stroke-linecap="round"/>
<path d="M182 226L188 226.75" stroke="#e2cc20" stroke-width="2.2" stroke-linecap="round"/>
<path d="M188 226.75L194 227.5" stroke="#a8a8a6" stroke-width="2.2" stroke-linecap="round"/>
<path d="M194 227.5L191 223.5" stroke="#a8a8a6" stroke-width="2.2" stroke-linecap="round"/>
<path d="M194 227.5L199.5 224.5" stroke="#a8a8a6" stroke-width="2.2" stroke-linecap="round"/>
<path d="M194 227.5L194 233" stroke="#a8a8a6" stroke-width="2.2" stroke-linecap="round"/>
<circle cx="166.5" cy="46.5" r="1.65" fill="url(#gH)"/>
<circle cx="161.5" cy="58" r="1.65" fill="url(#gH)"/>
<circle cx="164.5" cy="50.5" r="1.65" fill="url(#gH)"/>
<circle cx="194" cy="71.5" r="1.65" fill="url(#gH)"/>
<circle cx="195.5" cy="89" r="1.65" fill="url(#gH)"/>
<circle cx="169.5" cy="91.5" r="1.65" fill="url(#gH)"/>
<circle cx="167" cy="72.5" r="1.65" fill="url(#gH)"/>
<circle cx="199.5" cy="104.5" r="1.65" fill="url(#gH)"/>
<circle cx="197" cy="123" r="1.65" fill="url(#gH)"/>
<circle cx="159.5" cy="122.5" r="1.65" fill="url(#gH)"/>
<circle cx="154" cy="133.5" r="1.65" fill="url(#gH)"/>
<circle cx="208.5" cy="152.5" r="1.65" fill="url(#gH)"/>
<circle cx="204" cy="163.5" r="1.65" fill="url(#gH)"/>
<circle cx="165" cy="164" r="1.65" fill="url(#gH)"/>
<circle cx="163" cy="182.5" r="1.65" fill="url(#gH)"/>
<circle cx="193.5" cy="192.5" r="1.65" fill="url(#gH)"/>
<circle cx="167" cy="198.5" r="1.65" fill="url(#gH)"/>
<circle cx="194.5" cy="209" r="1.65" fill="url(#gH)"/>
<circle cx="168" cy="217" r="2.3" fill="url(#gH)"/>
<circle cx="191" cy="223.5" r="2" fill="url(#gH)"/>
<circle cx="199.5" cy="224.5" r="2" fill="url(#gH)"/>
<circle cx="194" cy="233" r="1.7" fill="url(#gH)"/>
<circle cx="167.5" cy="53.5" r="2" fill="url(#gL)"/>
<circle cx="180" cy="70" r="2.5" fill="url(#gC)"/>
<circle cx="189" cy="75" r="2.5" fill="url(#gC)"/>
<circle cx="190" cy="85" r="2.5" fill="url(#gC)"/>
<circle cx="183" cy="92" r="2.5" fill="url(#gC)"/>
<circle cx="174.5" cy="86" r="2.5" fill="url(#gC)"/>
<circle cx="173.5" cy="76" r="2.5" fill="url(#gC)"/>
<circle cx="184" cy="101.5" r="2.5" fill="url(#gC)"/>
<circle cx="193" cy="107.5" r="2.5" fill="url(#gC)"/>
<circle cx="191.5" cy="117.5" r="2.5" fill="url(#gC)"/>
<circle cx="182" cy="121" r="2.5" fill="url(#gC)"/>
<circle cx="178.5" cy="130" r="2.5" fill="url(#gC)"/>
<circle cx="159.5" cy="127.5" r="2.5" fill="url(#gC)"/>
<circle cx="184" cy="139" r="2.5" fill="url(#gC)"/>
<circle cx="194" cy="141.5" r="2.5" fill="url(#gC)"/>
<circle cx="202.5" cy="158" r="2.5" fill="url(#gC)"/>
<circle cx="183.5" cy="155" r="2.5" fill="url(#gC)"/>
<circle cx="178" cy="146.5" r="2.5" fill="url(#gC)"/>
<circle cx="168" cy="144" r="2.5" fill="url(#gC)"/>
<circle cx="180.5" cy="166" r="2.5" fill="url(#gC)"/>
<circle cx="178.5" cy="183.5" r="2.5" fill="url(#gC)"/>
<circle cx="169.5" cy="179" r="2.5" fill="url(#gC)"/>
<circle cx="171" cy="168.5" r="2.5" fill="url(#gC)"/>
<circle cx="180" cy="194" r="2.5" fill="url(#gC)"/>
<circle cx="188.5" cy="197.5" r="2.5" fill="url(#gC)"/>
<circle cx="189" cy="207" r="2.5" fill="url(#gC)"/>
<circle cx="181.5" cy="212.5" r="2.5" fill="url(#gC)"/>
<circle cx="173" cy="210" r="2.5" fill="url(#gC)"/>
<circle cx="173" cy="200" r="2.5" fill="url(#gC)"/>
<circle cx="194" cy="227.5" r="2" fill="url(#gL)"/>
<circle cx="168" cy="133.5" r="2.6" fill="url(#gN)"/>
<circle cx="202" cy="137.5" r="2.4" fill="url(#gO)"/>
<circle cx="193.5" cy="152.5" r="2.6" fill="url(#gN)"/>
<circle cx="160.5" cy="148.5" r="2.4" fill="url(#gO)"/>
<circle cx="179.3" cy="58" r="2.6" fill="url(#gS)"/>
<circle cx="173.5" cy="110" r="3" fill="url(#gS)"/>
<circle cx="187.5" cy="176" r="3" fill="url(#gS)"/>
<circle cx="182" cy="226" r="3" fill="url(#gS)"/>
<path d="M354 53.5L354 56.75" stroke="#e2cc20" stroke-width="2.2" stroke-linecap="round"/>
<path d="M354 56.75L354 60" stroke="#8c8c8c" stroke-width="2.2" stroke-linecap="round"/>
<path d="M354 53.5L348.75 57" stroke="#e2cc20" stroke-width="2.2" stroke-linecap="round"/>
<path d="M348.75 57L343.5 60.5" stroke="#8c8c8c" stroke-width="2.2" stroke-linecap="round"/>
<path d="M343.5 60.5L338.5 60" stroke="#8c8c8c" stroke-width="2.2" stroke-linecap="round"/>
<path d="M354 60L361 54.5" stroke="#8c8c8c" stroke-width="2.2" stroke-linecap="round"/>
<path d="M354 60L356.5 67" stroke="#8c8c8c" stroke-width="2.2" stroke-linecap="round"/>
<path d="M343.5 60.5L345.5 71.5" stroke="#8c8c8c" stroke-width="2.2" stroke-linecap="round"/>
<path d="M345.5 71.5L354 76" stroke="#8c8c8c" stroke-width="2.2" stroke-linecap="round"/>
<path d="M354 76L356 86" stroke="#8c8c8c" stroke-width="2.2" stroke-linecap="round"/>
<path d="M356 86L348.5 91.5" stroke="#8c8c8c" stroke-width="2.2" stroke-linecap="round"/>
<path d="M348.5 91.5L340.5 87" stroke="#8c8c8c" stroke-width="2.2" stroke-linecap="round"/>
<path d="M340.5 87L339.5 77.5" stroke="#8c8c8c" stroke-width="2.2" stroke-linecap="round"/>
<path d="M339.5 77.5L345.5 71.5" stroke="#8c8c8c" stroke-width="2.2" stroke-linecap="round"/>
<path d="M354 76L359 71.5" stroke="#8c8c8c" stroke-width="2.2" stroke-linecap="round"/>
<path d="M356 86L361.5 88.5" stroke="#8c8c8c" stroke-width="2.2" stroke-linecap="round"/>
<path d="M340.5 87L337.5 93" stroke="#8c8c8c" stroke-width="2.2" stroke-linecap="round"/>
<path d="M339.5 77.5L334.5 76.5" stroke="#8c8c8c" stroke-width="2.2" stroke-linecap="round"/>
<path d="M348.5 91.5L350.5 102.5" stroke="#8c8c8c" stroke-width="2.2" stroke-linecap="round"/>
<path d="M350.5 102.5L345.75 106.75" stroke="#8c8c8c" stroke-width="2.2" stroke-linecap="round"/>
<path d="M345.75 106.75L341 111" stroke="#e2cc20" stroke-width="2.2" stroke-linecap="round"/>
<path d="M350.5 102.5L360 107" stroke="#8c8c8c" stroke-width="2.2" stroke-linecap="round"/>
<path d="M360 107L359 117" stroke="#8c8c8c" stroke-width="2.2" stroke-linecap="round"/>
<path d="M359 117L350 120.5" stroke="#8c8c8c" stroke-width="2.2" stroke-linecap="round"/>
<path d="M350 120.5L345.5 115.75" stroke="#8c8c8c" stroke-width="2.2" stroke-linecap="round"/>
<path d="M345.5 115.75L341 111" stroke="#e2cc20" stroke-width="2.2" stroke-linecap="round"/>
<path d="M360 107L367.5 103" stroke="#8c8c8c" stroke-width="2.2" stroke-linecap="round"/>
<path d="M359 117L365.5 122" stroke="#8c8c8c" stroke-width="2.2" stroke-linecap="round"/>
<path d="M350 120.5L346 130" stroke="#8c8c8c" stroke-width="2.2" stroke-linecap="round"/>
<path d="M346 130L341.25 132" stroke="#8c8c8c" stroke-width="2.2" stroke-linecap="round"/>
<path d="M341.25 132L336.5 134" stroke="#4a66c0" stroke-width="2.2" stroke-linecap="round"/>
<path d="M336.5 134L332.25 131.25" stroke="#4a66c0" stroke-width="2.2" stroke-linecap="round"/>
<path d="M332.25 131.25L328 128.5" stroke="#8c8c8c" stroke-width="2.2" stroke-linecap="round"/>
<path d="M328 128.5L328.5 123.5" stroke="#8c8c8c" stroke-width="2.2" stroke-linecap="round"/>
<path d="M328 128.5L323 134" stroke="#8c8c8c" stroke-width="2.2" stroke-linecap="round"/>
<path d="M346 130L353 139" stroke="#8c8c8c" stroke-width="2.2" stroke-linecap="round"/>
<path d="M353 139L363 141" stroke="#8c8c8c" stroke-width="2.2" stroke-linecap="round"/>
<path d="M363 141L367.5 138.5" stroke="#8c8c8c" stroke-width="2.2" stroke-linecap="round"/>
<path d="M367.5 138.5L372 136" stroke="#cfa0c4" stroke-width="2.2" stroke-linecap="round"/>
<path d="M363 141L362.75 146" stroke="#8c8c8c" stroke-width="2.2" stroke-linecap="round"/>
<path d="M362.75 146L362.5 151" stroke="#4a66c0" stroke-width="2.2" stroke-linecap="round"/>
<path d="M362.5 151L367.25 153.5" stroke="#4a66c0" stroke-width="2.2" stroke-linecap="round"/>
<path d="M367.25 153.5L372 156" stroke="#8c8c8c" stroke-width="2.2" stroke-linecap="round"/>
<path d="M372 156L378.5 151" stroke="#8c8c8c" stroke-width="2.2" stroke-linecap="round"/>
<path d="M372 156L374 161.5" stroke="#8c8c8c" stroke-width="2.2" stroke-linecap="round"/>
<path d="M362.5 151L357.75 153" stroke="#4a66c0" stroke-width="2.2" stroke-linecap="round"/>
<path d="M357.75 153L353 155" stroke="#8c8c8c" stroke-width="2.2" stroke-linecap="round"/>
<path d="M353 155L347.5 146" stroke="#8c8c8c" stroke-width="2.2" stroke-linecap="round"/>
<path d="M347.5 146L353 139" stroke="#8c8c8c" stroke-width="2.2" stroke-linecap="round"/>
<path d="M347.5 146L337 144" stroke="#8c8c8c" stroke-width="2.2" stroke-linecap="round"/>
<path d="M337 144L333.5 146.25" stroke="#8c8c8c" stroke-width="2.2" stroke-linecap="round"/>
<path d="M333.5 146.25L330 148.5" stroke="#cfa0c4" stroke-width="2.2" stroke-linecap="round"/>
<path d="M337 144L336.75 139" stroke="#8c8c8c" stroke-width="2.2" stroke-linecap="round"/>
<path d="M336.75 139L336.5 134" stroke="#4a66c0" stroke-width="2.2" stroke-linecap="round"/>
<path d="M353 155L350 164" stroke="#8c8c8c" stroke-width="2.2" stroke-linecap="round"/>
<path d="M350 164L353.5 168.75" stroke="#8c8c8c" stroke-width="2.2" stroke-linecap="round"/>
<path d="M353.5 168.75L357 173.5" stroke="#e2cc20" stroke-width="2.2" stroke-linecap="round"/>
<path d="M357 173.5L352.75 177.25" stroke="#e2cc20" stroke-width="2.2" stroke-linecap="round"/>
<path d="M352.75 177.25L348.5 181" stroke="#8c8c8c" stroke-width="2.2" stroke-linecap="round"/>
<path d="M348.5 181L339 177.5" stroke="#8c8c8c" stroke-width="2.2" stroke-linecap="round"/>
<path d="M339 177.5L341 166.5" stroke="#8c8c8c" stroke-width="2.2" stroke-linecap="round"/>
<path d="M341 166.5L350 164" stroke="#8c8c8c" stroke-width="2.2" stroke-linecap="round"/>
<path d="M341 166.5L335.5 162" stroke="#8c8c8c" stroke-width="2.2" stroke-linecap="round"/>
<path d="M339 177.5L333.5 180.5" stroke="#8c8c8c" stroke-width="2.2" stroke-linecap="round"/>
<path d="M348.5 181L350.5 190.5" stroke="#8c8c8c" stroke-width="2.2" stroke-linecap="round"/>
<path d="M350.5 190.5L358.5 194" stroke="#8c8c8c" stroke-width="2.2" stroke-linecap="round"/>
<path d="M358.5 194L360 203.5" stroke="#8c8c8c" stroke-width="2.2" stroke-linecap="round"/>
<path d="M360 203.5L353 210" stroke="#8c8c8c" stroke-width="2.2" stroke-linecap="round"/>
<path d="M353 210L345 208" stroke="#8c8c8c" stroke-width="2.2" stroke-linecap="round"/>
<path d="M345 208L343.5 198" stroke="#8c8c8c" stroke-width="2.2" stroke-linecap="round"/>
<path d="M343.5 198L350.5 190.5" stroke="#8c8c8c" stroke-width="2.2" stroke-linecap="round"/>
<path d="M358.5 194L363 188.5" stroke="#8c8c8c" stroke-width="2.2" stroke-linecap="round"/>
<path d="M343.5 198L339 196" stroke="#8c8c8c" stroke-width="2.2" stroke-linecap="round"/>
<path d="M360 203.5L365.5 206" stroke="#8c8c8c" stroke-width="2.2" stroke-linecap="round"/>
<path d="M353 210L354.5 221.5" stroke="#a8a8a6" stroke-width="2.2" stroke-linecap="round"/>
<path d="M345 208L347 216" stroke="#a8a8a6" stroke-width="2.2" stroke-linecap="round"/>
<path d="M347 216L340 213.5" stroke="#a8a8a6" stroke-width="2.2" stroke-linecap="round"/>
<path d="M347 216L340.5 218.5" stroke="#a8a8a6" stroke-width="2.2" stroke-linecap="round"/>
<path d="M347 216L345.75 220.5" stroke="#a8a8a6" stroke-width="2.2" stroke-linecap="round"/>
<path d="M345.75 220.5L344.5 225" stroke="#e2cc20" stroke-width="2.2" stroke-linecap="round"/>
<path d="M344.5 225L349.5 223.25" stroke="#e2cc20" stroke-width="2.2" stroke-linecap="round"/>
<path d="M349.5 223.25L354.5 221.5" stroke="#a8a8a6" stroke-width="2.2" stroke-linecap="round"/>
<path d="M354.5 221.5L361.5 221.5" stroke="#a8a8a6" stroke-width="2.2" stroke-linecap="round"/>
<path d="M354.5 221.5L354.5 226.5" stroke="#a8a8a6" stroke-width="2.2" stroke-linecap="round"/>
<circle cx="338.5" cy="60" r="1.65" fill="url(#gH)"/>
<circle cx="361" cy="54.5" r="1.65" fill="url(#gH)"/>
<circle cx="356.5" cy="67" r="1.65" fill="url(#gH)"/>
<circle cx="359" cy="71.5" r="1.65" fill="url(#gH)"/>
<circle cx="361.5" cy="88.5" r="1.65" fill="url(#gH)"/>
<circle cx="334.5" cy="76.5" r="1.65" fill="url(#gH)"/>
<circle cx="337.5" cy="93" r="1.65" fill="url(#gH)"/>
<circle cx="367.5" cy="103" r="1.65" fill="url(#gH)"/>
<circle cx="365.5" cy="122" r="1.65" fill="url(#gH)"/>
<circle cx="328.5" cy="123.5" r="1.65" fill="url(#gH)"/>
<circle cx="323" cy="134" r="1.65" fill="url(#gH)"/>
<circle cx="378.5" cy="151" r="1.65" fill="url(#gH)"/>
<circle cx="374" cy="161.5" r="1.65" fill="url(#gH)"/>
<circle cx="335.5" cy="162" r="1.65" fill="url(#gH)"/>
<circle cx="333.5" cy="180.5" r="1.65" fill="url(#gH)"/>
<circle cx="363" cy="188.5" r="1.65" fill="url(#gH)"/>
<circle cx="339" cy="196" r="1.65" fill="url(#gH)"/>
<circle cx="365.5" cy="206" r="1.65" fill="url(#gH)"/>
<circle cx="340" cy="213.5" r="2.2" fill="url(#gH)"/>
<circle cx="340.5" cy="218.5" r="2.2" fill="url(#gH)"/>
<circle cx="361.5" cy="221.5" r="2.2" fill="url(#gH)"/>
<circle cx="354.5" cy="226.5" r="2.2" fill="url(#gH)"/>
<circle cx="354" cy="60" r="2.5" fill="url(#gC)"/>
<circle cx="343.5" cy="60.5" r="2.5" fill="url(#gC)"/>
<circle cx="345.5" cy="71.5" r="2.5" fill="url(#gC)"/>
<circle cx="354" cy="76" r="2.5" fill="url(#gC)"/>
<circle cx="356" cy="86" r="2.5" fill="url(#gC)"/>
<circle cx="348.5" cy="91.5" r="2.5" fill="url(#gC)"/>
<circle cx="340.5" cy="87" r="2.5" fill="url(#gC)"/>
<circle cx="339.5" cy="77.5" r="2.5" fill="url(#gC)"/>
<circle cx="350.5" cy="102.5" r="2.5" fill="url(#gC)"/>
<circle cx="360" cy="107" r="2.5" fill="url(#gC)"/>
<circle cx="359" cy="117" r="2.5" fill="url(#gC)"/>
<circle cx="350" cy="120.5" r="2.5" fill="url(#gC)"/>
<circle cx="346" cy="130" r="2.5" fill="url(#gC)"/>
<circle cx="328" cy="128.5" r="2.5" fill="url(#gC)"/>
<circle cx="353" cy="139" r="2.5" fill="url(#gC)"/>
<circle cx="363" cy="141" r="2.5" fill="url(#gC)"/>
<circle cx="372" cy="156" r="2.5" fill="url(#gC)"/>
<circle cx="353" cy="155" r="2.5" fill="url(#gC)"/>
<circle cx="347.5" cy="146" r="2.5" fill="url(#gC)"/>
<circle cx="337" cy="144" r="2.5" fill="url(#gC)"/>
<circle cx="350" cy="164" r="2.5" fill="url(#gC)"/>
<circle cx="348.5" cy="181" r="2.5" fill="url(#gC)"/>
<circle cx="339" cy="177.5" r="2.5" fill="url(#gC)"/>
<circle cx="341" cy="166.5" r="2.5" fill="url(#gC)"/>
<circle cx="350.5" cy="190.5" r="2.5" fill="url(#gC)"/>
<circle cx="358.5" cy="194" r="2.5" fill="url(#gC)"/>
<circle cx="360" cy="203.5" r="2.5" fill="url(#gC)"/>
<circle cx="353" cy="210" r="2.5" fill="url(#gC)"/>
<circle cx="345" cy="208" r="2.5" fill="url(#gC)"/>
<circle cx="343.5" cy="198" r="2.5" fill="url(#gC)"/>
<circle cx="347" cy="216" r="2.2" fill="url(#gL)"/>
<circle cx="354.5" cy="221.5" r="2.3" fill="url(#gL)"/>
<circle cx="336.5" cy="134" r="2.6" fill="url(#gN)"/>
<circle cx="372" cy="136" r="1.8" fill="url(#gO)"/>
<circle cx="362.5" cy="151" r="2.6" fill="url(#gN)"/>
<circle cx="330" cy="148.5" r="1.9" fill="url(#gO)"/>
<circle cx="354" cy="53.5" r="3" fill="url(#gS)"/>
<circle cx="341" cy="111" r="3" fill="url(#gS)"/>
<circle cx="357" cy="173.5" r="3" fill="url(#gS)"/>
<circle cx="344.5" cy="225" r="2.8" fill="url(#gS)"/></g>
<g filter="url(#bl)"><path d="M240.2 57.6L230.85 53.3" stroke="#e2cc20" stroke-width="2.8" stroke-linecap="round"/>
<path d="M230.85 53.3L221.5 49" stroke="#a8a8a6" stroke-width="2.8" stroke-linecap="round"/>
<path d="M221.5 49L220 37.5" stroke="#a8a8a6" stroke-width="2.8" stroke-linecap="round"/>
<path d="M221.5 49L212.4 56" stroke="#a8a8a6" stroke-width="2.8" stroke-linecap="round"/>
<path d="M221.5 49L226 52.5" stroke="#a8a8a6" stroke-width="2.8" stroke-linecap="round"/>
<path d="M240.2 57.6L241.1 67.8" stroke="#e2cc20" stroke-width="2.8" stroke-linecap="round"/>
<path d="M241.1 67.8L242 78" stroke="#a8a8a6" stroke-width="2.8" stroke-linecap="round"/>
<path d="M242 78L230.7 87.5" stroke="#a8a8a6" stroke-width="2.8" stroke-linecap="round"/>
<path d="M242 78L255 86.7" stroke="#a8a8a6" stroke-width="2.8" stroke-linecap="round"/>
<path d="M230.7 87.5L222 81.4" stroke="#a8a8a6" stroke-width="2.8" stroke-linecap="round"/>
<path d="M255 86.7L264.7 80.5" stroke="#a8a8a6" stroke-width="2.8" stroke-linecap="round"/>
<circle cx="220" cy="37.5" r="3" fill="url(#gH)"/>
<circle cx="212.4" cy="56" r="3" fill="url(#gH)"/>
<circle cx="226" cy="52.5" r="2.6" fill="url(#gH)"/>
<circle cx="222" cy="81.4" r="3" fill="url(#gH)"/>
<circle cx="264.7" cy="80.5" r="3" fill="url(#gH)"/>
<circle cx="221.5" cy="49" r="4.2" fill="url(#gL)"/>
<circle cx="242" cy="78" r="4.4" fill="url(#gL)"/>
<circle cx="230.7" cy="87.5" r="4.4" fill="url(#gL)"/>
<circle cx="255" cy="86.7" r="4.4" fill="url(#gL)"/>
<circle cx="240.2" cy="57.6" r="4.9" fill="url(#gS)"/>
<path d="M413 51.8L403.95 57.1" stroke="#e2cc20" stroke-width="2.8" stroke-linecap="round"/>
<path d="M403.95 57.1L394.9 62.4" stroke="#a8a8a6" stroke-width="2.8" stroke-linecap="round"/>
<path d="M394.9 62.4L385.3 62.2" stroke="#a8a8a6" stroke-width="2.8" stroke-linecap="round"/>
<path d="M394.9 62.4L393.5 56.3" stroke="#a8a8a6" stroke-width="2.8" stroke-linecap="round"/>
<path d="M413 51.8L416.85 57.65" stroke="#e2cc20" stroke-width="2.8" stroke-linecap="round"/>
<path d="M416.85 57.65L420.7 63.5" stroke="#a8a8a6" stroke-width="2.8" stroke-linecap="round"/>
<path d="M420.7 63.5L437.6 57.3" stroke="#a8a8a6" stroke-width="2.8" stroke-linecap="round"/>
<path d="M420.7 63.5L426 76" stroke="#a8a8a6" stroke-width="2.8" stroke-linecap="round"/>
<path d="M420.7 63.5L411.3 66.3" stroke="#a8a8a6" stroke-width="2.8" stroke-linecap="round"/>
<path d="M394.9 62.4L396.4 80" stroke="#a8a8a6" stroke-width="2.8" stroke-linecap="round"/>
<path d="M396.4 80L407 83.7" stroke="#a8a8a6" stroke-width="2.8" stroke-linecap="round"/>
<path d="M407 83.7L410.8 75" stroke="#a8a8a6" stroke-width="2.8" stroke-linecap="round"/>
<path d="M396.4 80L390.6 89.5" stroke="#a8a8a6" stroke-width="2.8" stroke-linecap="round"/>
<path d="M407 83.7L408.8 96" stroke="#a8a8a6" stroke-width="2.8" stroke-linecap="round"/>
<circle cx="385.3" cy="62.2" r="2.9" fill="url(#gH)"/>
<circle cx="393.5" cy="56.3" r="2.6" fill="url(#gH)"/>
<circle cx="437.6" cy="57.3" r="3.8" fill="url(#gH)"/>
<circle cx="426" cy="76" r="3.1" fill="url(#gH)"/>
<circle cx="411.3" cy="66.3" r="2.8" fill="url(#gH)"/>
<circle cx="410.8" cy="75" r="2.8" fill="url(#gH)"/>
<circle cx="390.6" cy="89.5" r="2.8" fill="url(#gH)"/>
<circle cx="394.9" cy="62.4" r="4.4" fill="url(#gL)"/>
<circle cx="420.7" cy="63.5" r="5.7" fill="url(#gL)"/>
<circle cx="396.4" cy="80" r="4.8" fill="url(#gL)"/>
<circle cx="407" cy="83.7" r="4.8" fill="url(#gL)"/>
<circle cx="408.8" cy="96" r="0.1" fill="url(#gL)"/>
<circle cx="413" cy="51.8" r="5.4" fill="url(#gS)"/></g>
<text x="216.4" y="111.6" font-size="13.1" font-weight="bold" fill="#222" font-family="Liberation Sans, sans-serif">-SCH<tspan font-size="8.5" dy="2.6">3</tspan></text>
<text x="384.8" y="112.6" font-size="13.1" font-weight="bold" fill="#222" font-family="Liberation Sans, sans-serif">-CH<tspan font-size="8.5" dy="2.6">2</tspan><tspan dy="-2.6">SCH</tspan><tspan font-size="8.5" dy="2.6">3</tspan></text>
<rect x="556" y="20.5" width="212.8" height="203.7" fill="#fff" stroke="#2b2b2b" stroke-width="1.2"/>
<path d="M573.68 224.2v4M609.12 224.2v4M644.56 224.2v4M680 224.2v4M715.44 224.2v4M750.88 224.2v4M591.4 224.2v2.2M626.84 224.2v2.2M662.28 224.2v2.2M697.72 224.2v2.2M733.16 224.2v2.2M556 20.5h-4M556 71.4h-4M556 122.3h-4M556 173.2h-4M556 224.1h-4M556 45.95h-2.2M556 96.85h-2.2M556 147.75h-2.2M556 198.65h-2.2" fill="none" stroke="#2b2b2b" stroke-width="1.2"/>
<polyline points="573.68,87.5 591.4,94.75 609.12,102 626.84,103 644.56,110.8 662.28,110.8 680,114 697.72,120.4 715.44,117.3 733.16,105.6 750.88,102.2" fill="none" stroke="#6b6b6b" stroke-width="1.2" stroke-linejoin="round"/>
<path d="M573.68 81.5V93.5M571.08 81.5H576.28M571.08 93.5H576.28M591.4 89.55V99.95M588.8 89.55H594M588.8 99.95H594M609.12 97.5V106.5M606.52 97.5H611.72M606.52 106.5H611.72M626.84 99.4V106.6M624.24 99.4H629.44M624.24 106.6H629.44M644.56 104.5V117.1M641.96 104.5H647.16M641.96 117.1H647.16M662.28 104.8V116.8M659.68 104.8H664.88M659.68 116.8H664.88M680 109.7V118.3M677.4 109.7H682.6M677.4 118.3H682.6M697.72 115.4V125.4M695.12 115.4H700.32M695.12 125.4H700.32M715.44 112.1V122.5M712.84 112.1H718.04M712.84 122.5H718.04M733.16 97.3V113.9M730.56 97.3H735.76M730.56 113.9H735.76M750.88 95.4V109M748.28 95.4H753.48M748.28 109H753.48" fill="none" stroke="#7a7a7a" stroke-width="0.9"/>
<rect x="571.38" y="85.2" width="4.6" height="4.6" fill="#4f4f4f"/>
<rect x="589.1" y="92.45" width="4.6" height="4.6" fill="#4f4f4f"/>
<rect x="606.82" y="99.7" width="4.6" height="4.6" fill="#4f4f4f"/>
<rect x="624.54" y="100.7" width="4.6" height="4.6" fill="#4f4f4f"/>
<rect x="642.26" y="108.5" width="4.6" height="4.6" fill="#4f4f4f"/>
<rect x="659.98" y="108.5" width="4.6" height="4.6" fill="#4f4f4f"/>
<rect x="677.7" y="111.7" width="4.6" height="4.6" fill="#4f4f4f"/>
<rect x="695.42" y="118.1" width="4.6" height="4.6" fill="#4f4f4f"/>
<rect x="713.14" y="115" width="4.6" height="4.6" fill="#4f4f4f"/>
<rect x="730.86" y="103.3" width="4.6" height="4.6" fill="#4f4f4f"/>
<rect x="748.58" y="99.9" width="4.6" height="4.6" fill="#4f4f4f"/>
<polyline points="573.68,100.5 591.4,102 609.12,120.25 626.84,126.25 644.56,127.3 662.28,131.3 680,134.6 697.72,142.4 715.44,143.7 733.16,148.5 750.88,146.1" fill="none" stroke="#1f72b8" stroke-width="1.2" stroke-linejoin="round"/>
<path d="M573.68 94.9V106.1M571.08 94.9H576.28M571.08 106.1H576.28M591.4 97.6V106.4M588.8 97.6H594M588.8 106.4H594M609.12 115.25V125.25M606.52 115.25H611.72M606.52 125.25H611.72M626.84 120.85V131.65M624.24 120.85H629.44M624.24 131.65H629.44M644.56 122.55V132.05M641.96 122.55H647.16M641.96 132.05H647.16M662.28 127.3V135.3M659.68 127.3H664.88M659.68 135.3H664.88M680 128.6V140.6M677.4 128.6H682.6M677.4 140.6H682.6M697.72 137.4V147.4M695.12 137.4H700.32M695.12 147.4H700.32M715.44 140V147.4M712.84 140H718.04M712.84 147.4H718.04M733.16 143.6V153.4M730.56 143.6H735.76M730.56 153.4H735.76M750.88 142V150.2M748.28 142H753.48M748.28 150.2H753.48" fill="none" stroke="#3a86c4" stroke-width="0.9"/>
<rect x="571.38" y="98.2" width="4.6" height="4.6" fill="#1b69ad"/>
<rect x="589.1" y="99.7" width="4.6" height="4.6" fill="#1b69ad"/>
<rect x="606.82" y="117.95" width="4.6" height="4.6" fill="#1b69ad"/>
<rect x="624.54" y="123.95" width="4.6" height="4.6" fill="#1b69ad"/>
<rect x="642.26" y="125" width="4.6" height="4.6" fill="#1b69ad"/>
<rect x="659.98" y="129" width="4.6" height="4.6" fill="#1b69ad"/>
<rect x="677.7" y="132.3" width="4.6" height="4.6" fill="#1b69ad"/>
<rect x="695.42" y="140.1" width="4.6" height="4.6" fill="#1b69ad"/>
<rect x="713.14" y="141.4" width="4.6" height="4.6" fill="#1b69ad"/>
<rect x="730.86" y="146.2" width="4.6" height="4.6" fill="#1b69ad"/>
<rect x="748.58" y="143.8" width="4.6" height="4.6" fill="#1b69ad"/>
<polyline points="573.68,72.5 591.4,121.5 609.12,135.75 626.84,144.5 644.56,156 662.28,169 680,175.2 697.72,176.7 715.44,177 733.16,182.2 750.88,189.8" fill="none" stroke="#ea3f48" stroke-width="1.2" stroke-linejoin="round"/>
<path d="M573.68 68.5V76.5M571.08 68.5H576.28M571.08 76.5H576.28M591.4 115.25V127.75M588.8 115.25H594M588.8 127.75H594M609.12 131.35V140.15M606.52 131.35H611.72M606.52 140.15H611.72M626.84 141.1V147.9M624.24 141.1H629.44M624.24 147.9H629.44M644.56 150.6V161.4M641.96 150.6H647.16M641.96 161.4H647.16M662.28 162V176M659.68 162H664.88M659.68 176H664.88M680 170.4V180M677.4 170.4H682.6M677.4 180H682.6M697.72 172V181.4M695.12 172H700.32M695.12 181.4H700.32M715.44 172.25V181.75M712.84 172.25H718.04M712.84 181.75H718.04M733.16 177.2V187.2M730.56 177.2H735.76M730.56 187.2H735.76M750.88 185.3V194.3M748.28 185.3H753.48M748.28 194.3H753.48" fill="none" stroke="#f07078" stroke-width="0.9"/>
<rect x="571.38" y="70.2" width="4.6" height="4.6" fill="#ea3f48"/>
<rect x="589.1" y="119.2" width="4.6" height="4.6" fill="#ea3f48"/>
<rect x="606.82" y="133.45" width="4.6" height="4.6" fill="#ea3f48"/>
<rect x="624.54" y="142.2" width="4.6" height="4.6" fill="#ea3f48"/>
<rect x="642.26" y="153.7" width="4.6" height="4.6" fill="#ea3f48"/>
<rect x="659.98" y="166.7" width="4.6" height="4.6" fill="#ea3f48"/>
<rect x="677.7" y="172.9" width="4.6" height="4.6" fill="#ea3f48"/>
<rect x="695.42" y="174.4" width="4.6" height="4.6" fill="#ea3f48"/>
<rect x="713.14" y="174.7" width="4.6" height="4.6" fill="#ea3f48"/>
<rect x="730.86" y="179.9" width="4.6" height="4.6" fill="#ea3f48"/>
<rect x="748.58" y="187.5" width="4.6" height="4.6" fill="#ea3f48"/>
<text x="573.38" y="241.6" font-size="13.3" text-anchor="middle" font-weight="normal" fill="#111" font-family="Liberation Sans, sans-serif" >-0.6</text>
<text x="608.82" y="241.6" font-size="13.3" text-anchor="middle" font-weight="normal" fill="#111" font-family="Liberation Sans, sans-serif" >-0.4</text>
<text x="644.26" y="241.6" font-size="13.3" text-anchor="middle" font-weight="normal" fill="#111" font-family="Liberation Sans, sans-serif" >-0.2</text>
<text x="680" y="241.6" font-size="13.3" text-anchor="middle" font-weight="normal" fill="#111" font-family="Liberation Sans, sans-serif" >0.0</text>
<text x="715.44" y="241.6" font-size="13.3" text-anchor="middle" font-weight="normal" fill="#111" font-family="Liberation Sans, sans-serif" >0.2</text>
<text x="750.88" y="241.6" font-size="13.3" text-anchor="middle" font-weight="normal" fill="#111" font-family="Liberation Sans, sans-serif" >0.4</text>
<text x="549.5" y="25.1" font-size="13.3" text-anchor="end" font-weight="normal" fill="#111" font-family="Liberation Sans, sans-serif" >-2</text>
<text x="549.5" y="76" font-size="13.3" text-anchor="end" font-weight="normal" fill="#111" font-family="Liberation Sans, sans-serif" >-3</text>
<text x="549.5" y="126.9" font-size="13.3" text-anchor="end" font-weight="normal" fill="#111" font-family="Liberation Sans, sans-serif" >-4</text>
<text x="549.5" y="177.8" font-size="13.3" text-anchor="end" font-weight="normal" fill="#111" font-family="Liberation Sans, sans-serif" >-5</text>
<text x="549.5" y="228.7" font-size="13.3" text-anchor="end" font-weight="normal" fill="#111" font-family="Liberation Sans, sans-serif" >-6</text>
<text x="662.3" y="261" font-size="17.6" text-anchor="middle" font-weight="normal" fill="#111" font-family="Liberation Sans, sans-serif" >Gate voltage (V)</text>
<text transform="translate(528.3 122) rotate(-90)" font-size="18" text-anchor="middle" fill="#111" font-family="Liberation Sans, sans-serif">Conductance / (log(<tspan font-style="italic">G</tspan>/<tspan font-style="italic">G</tspan><tspan font-size="11.7" dy="3.96">0</tspan><tspan dy="-3.96">))</tspan></text>
<path d="M641 30H680" stroke="#6b6b6b" stroke-width="1.6"/>
<text x="689.3" y="33.7" font-size="13.7" text-anchor="start" font-weight="normal" fill="#111" font-family="Liberation Sans, sans-serif" >DPP-SH</text>
<path d="M641 53.2H680" stroke="#1f72b8" stroke-width="1.6"/>
<text x="689.3" y="58.1" font-size="13.7" text-anchor="start" font-weight="normal" fill="#111" font-family="Liberation Sans, sans-serif" >DPP-SMe</text>
<path d="M641 79.3H680" stroke="#ea3f48" stroke-width="1.6"/>
<text x="689.3" y="83.2" font-size="13.7" text-anchor="start" font-weight="normal" fill="#111" font-family="Liberation Sans, sans-serif" >DPP-C-SMe</text>
<rect x="54.8" y="305.5" width="210.8" height="202.1" fill="#fff" stroke="#2b2b2b" stroke-width="1.2"/>
<path d="M72.5 507.6v4M107.5 507.6v4M142.5 507.6v4M177.5 507.6v4M212.5 507.6v4M247.5 507.6v4M90 507.6v2.2M125 507.6v2.2M160 507.6v2.2M195 507.6v2.2M230 507.6v2.2M54.8 305.5h-4M54.8 356h-4M54.8 406.5h-4M54.8 457h-4M54.8 507.5h-4M54.8 330.75h-2.2M54.8 381.25h-2.2M54.8 431.75h-2.2M54.8 482.25h-2.2" fill="none" stroke="#2b2b2b" stroke-width="1.2"/>
<polyline points="72.5,404 90,402.75 107.5,404.25 125,403.75 142.5,395 160,394.25 177.5,397 195,401.25 212.5,405 230,403.75 247.5,395.25" fill="none" stroke="#8e8e8e" stroke-width="1.2" stroke-linejoin="round"/>
<path d="M72.5 399V409M69.9 399H75.1M69.9 409H75.1M90 394.75V410.75M87.4 394.75H92.6M87.4 410.75H92.6M107.5 400.25V408.25M104.9 400.25H110.1M104.9 408.25H110.1M125 395.25V412.25M122.4 395.25H127.6M122.4 412.25H127.6M142.5 384.5V405.5M139.9 384.5H145.1M139.9 405.5H145.1M160 388V400.5M157.4 388H162.6M157.4 400.5H162.6M177.5 391.6V402.4M174.9 391.6H180.1M174.9 402.4H180.1M195 396.25V406.25M192.4 396.25H197.6M192.4 406.25H197.6M212.5 399.6V410.4M209.9 399.6H215.1M209.9 410.4H215.1M230 395V412.5M227.4 395H232.6M227.4 412.5H232.6M247.5 390V400.5M244.9 390H250.1M244.9 400.5H250.1" fill="none" stroke="#9a9a9a" stroke-width="0.9"/>
<rect x="70.2" y="401.7" width="4.6" height="4.6" fill="#5c5c5c"/>
<rect x="87.7" y="400.45" width="4.6" height="4.6" fill="#5c5c5c"/>
<rect x="105.2" y="401.95" width="4.6" height="4.6" fill="#5c5c5c"/>
<rect x="122.7" y="401.45" width="4.6" height="4.6" fill="#5c5c5c"/>
<rect x="140.2" y="392.7" width="4.6" height="4.6" fill="#5c5c5c"/>
<rect x="157.7" y="391.95" width="4.6" height="4.6" fill="#5c5c5c"/>
<rect x="175.2" y="394.7" width="4.6" height="4.6" fill="#5c5c5c"/>
<rect x="192.7" y="398.95" width="4.6" height="4.6" fill="#5c5c5c"/>
<rect x="210.2" y="402.7" width="4.6" height="4.6" fill="#5c5c5c"/>
<rect x="227.7" y="401.45" width="4.6" height="4.6" fill="#5c5c5c"/>
<rect x="245.2" y="392.95" width="4.6" height="4.6" fill="#5c5c5c"/>
<polyline points="72.5,426.25 90,427 107.5,429 125,424.25 142.5,425.8 160,425.8 177.5,418.6 195,418 212.5,418 230,431 247.5,428.5" fill="none" stroke="#1a1a1a" stroke-width="1.2" stroke-linejoin="round"/>
<path d="M72.5 421.25V431.25M69.9 421.25H75.1M69.9 431.25H75.1M90 420V434M87.4 420H92.6M87.4 434H92.6M107.5 424.5V433.5M104.9 424.5H110.1M104.9 433.5H110.1M125 419.25V429.25M122.4 419.25H127.6M122.4 429.25H127.6M142.5 420.2V431.4M139.9 420.2H145.1M139.9 431.4H145.1M160 418.55V433.05M157.4 418.55H162.6M157.4 433.05H162.6M177.5 413.35V423.85M174.9 413.35H180.1M174.9 423.85H180.1M195 414.6V421.4M192.4 414.6H197.6M192.4 421.4H197.6M212.5 412.4V423.6M209.9 412.4H215.1M209.9 423.6H215.1M230 427V435M227.4 427H232.6M227.4 435H232.6M247.5 424.5V432.5M244.9 424.5H250.1M244.9 432.5H250.1" fill="none" stroke="#2a2a2a" stroke-width="0.9"/>
<rect x="70.2" y="423.95" width="4.6" height="4.6" fill="#0a0a0a"/>
<rect x="87.7" y="424.7" width="4.6" height="4.6" fill="#0a0a0a"/>
<rect x="105.2" y="426.7" width="4.6" height="4.6" fill="#0a0a0a"/>
<rect x="122.7" y="421.95" width="4.6" height="4.6" fill="#0a0a0a"/>
<rect x="140.2" y="423.5" width="4.6" height="4.6" fill="#0a0a0a"/>
<rect x="157.7" y="423.5" width="4.6" height="4.6" fill="#0a0a0a"/>
<rect x="175.2" y="416.3" width="4.6" height="4.6" fill="#0a0a0a"/>
<rect x="192.7" y="415.7" width="4.6" height="4.6" fill="#0a0a0a"/>
<rect x="210.2" y="415.7" width="4.6" height="4.6" fill="#0a0a0a"/>
<rect x="227.7" y="428.7" width="4.6" height="4.6" fill="#0a0a0a"/>
<rect x="245.2" y="426.2" width="4.6" height="4.6" fill="#0a0a0a"/>
<text x="71.7" y="526.3" font-size="13.3" text-anchor="middle" font-weight="normal" fill="#111" font-family="Liberation Sans, sans-serif" >-0.6</text>
<text x="106.7" y="526.3" font-size="13.3" text-anchor="middle" font-weight="normal" fill="#111" font-family="Liberation Sans, sans-serif" >-0.4</text>
<text x="141.7" y="526.3" font-size="13.3" text-anchor="middle" font-weight="normal" fill="#111" font-family="Liberation Sans, sans-serif" >-0.2</text>
<text x="177.5" y="526.3" font-size="13.3" text-anchor="middle" font-weight="normal" fill="#111" font-family="Liberation Sans, sans-serif" >0.0</text>
<text x="212.5" y="526.3" font-size="13.3" text-anchor="middle" font-weight="normal" fill="#111" font-family="Liberation Sans, sans-serif" >0.2</text>
<text x="247.5" y="526.3" font-size="13.3" text-anchor="middle" font-weight="normal" fill="#111" font-family="Liberation Sans, sans-serif" >0.4</text>
<text x="48.5" y="310.1" font-size="13.3" text-anchor="end" font-weight="normal" fill="#111" font-family="Liberation Sans, sans-serif" >-2</text>
<text x="48.5" y="360.6" font-size="13.3" text-anchor="end" font-weight="normal" fill="#111" font-family="Liberation Sans, sans-serif" >-3</text>
<text x="48.5" y="411.1" font-size="13.3" text-anchor="end" font-weight="normal" fill="#111" font-family="Liberation Sans, sans-serif" >-4</text>
<text x="48.5" y="461.6" font-size="13.3" text-anchor="end" font-weight="normal" fill="#111" font-family="Liberation Sans, sans-serif" >-5</text>
<text x="48.5" y="512.1" font-size="13.3" text-anchor="end" font-weight="normal" fill="#111" font-family="Liberation Sans, sans-serif" >-6</text>
<text x="161" y="546" font-size="17" text-anchor="middle" font-weight="normal" fill="#111" font-family="Liberation Sans, sans-serif" >Gate voltage (V)</text>
<text transform="translate(27 406) rotate(-90)" font-size="17.4" text-anchor="middle" fill="#111" font-family="Liberation Sans, sans-serif">Conductance / (log(<tspan font-style="italic">G</tspan>/<tspan font-style="italic">G</tspan><tspan font-size="11.31" dy="3.83">0</tspan><tspan dy="-3.83">))</tspan></text>
<path d="M134 320.5H172.5" stroke="#8e8e8e" stroke-width="1.3"/>
<text x="182" y="324.8" font-size="13.6" text-anchor="start" font-weight="normal" fill="#111" font-family="Liberation Sans, sans-serif" >Ph-SMe</text>
<path d="M134 349.3H172.5" stroke="#111" stroke-width="2.2"/>
<text x="182" y="353.6" font-size="13.6" text-anchor="start" font-weight="normal" fill="#111" font-family="Liberation Sans, sans-serif" >Ph-C-SMe</text>
<rect x="328.3" y="305.7" width="211" height="201.8" fill="#fff" stroke="#2b2b2b" stroke-width="1.2"/>
<path d="M328.3 507.5v4M370.5 507.5v4M412.7 507.5v4M454.9 507.5v4M497.1 507.5v4M539.3 507.5v4M349.4 507.5v2.2M391.6 507.5v2.2M433.8 507.5v2.2M476 507.5v2.2M518.2 507.5v2.2M328.3 305.7h-4M328.3 342.38h-4M328.3 379.06h-4M328.3 415.74h-4M328.3 452.42h-4M328.3 489.1h-4M328.3 324.04h-2.2M328.3 360.72h-2.2M328.3 397.4h-2.2M328.3 434.08h-2.2M328.3 470.76h-2.2M328.3 507.44h-2.2" fill="none" stroke="#2b2b2b" stroke-width="1.2"/>
<polygon points="500.5,319.4 501.91,323.66 506.4,323.68 502.78,326.34 504.14,330.62 500.5,328 496.86,330.62 498.22,326.34 494.6,323.68 499.09,323.66" fill="#cc1111"/>
<g transform="translate(559.7 316.5) scale(1.0)"><polygon points="0,-5.8 1.41,-1.54 5.9,-1.52 2.28,1.14 3.64,5.42 0,2.8 -3.64,5.42 -2.28,1.14 -5.9,-1.52 -1.41,-1.54" fill="#cc1111"/></g>
<text x="571.4" y="321.7" font-size="15.5" text-anchor="start" font-weight="bold" fill="#111" font-family="Liberation Sans, sans-serif" >this work</text>
<rect x="410" y="325.25" width="5.5" height="5.5" fill="#d8ecf8" stroke="#2a7fc0" stroke-width="1.3"/>
<g transform="translate(559.7 339.1) scale(1.0)"><rect x="-2.75" y="-2.75" width="5.5" height="5.5" fill="#d8ecf8" stroke="#2a7fc0" stroke-width="1.3"/></g>
<text x="571.4" y="344.3" font-size="15.5" text-anchor="start" font-weight="normal" fill="#111" font-family="Liberation Sans, sans-serif" >porphyrin-dione</text>
<circle cx="497" cy="379.2" r="3.1" fill="#dff3d6" stroke="#3aa528" stroke-width="1.3"/>
<g transform="translate(559.7 361.7) scale(1.0)"><circle cx="0" cy="0" r="3.1" fill="#dff3d6" stroke="#3aa528" stroke-width="1.3"/></g>
<text x="571.4" y="366.9" font-size="15.5" text-anchor="start" font-weight="normal" fill="#111" font-family="Liberation Sans, sans-serif" >meta-benzene</text>
<polygon points="347.5,369.4 351.25,376 343.75,376" fill="#d6f3e8" stroke="#1fa97f" stroke-width="1.3" stroke-linejoin="miter"/>
<g transform="translate(559.7 384.3) scale(1.0)"><polygon points="0,-3.9 3.75,2.7 -3.75,2.7" fill="#d6f3e8" stroke="#1fa97f" stroke-width="1.3" stroke-linejoin="miter"/></g>
<text x="571.4" y="389.5" font-size="15.5" text-anchor="start" font-weight="normal" fill="#111" font-family="Liberation Sans, sans-serif" >oligothiophenes</text>
<polygon points="371,389.1 374.75,382.5 367.25,382.5" fill="#f9d9ea" stroke="#c4157d" stroke-width="1.3" stroke-linejoin="miter"/>
<g transform="translate(559.7 406.9) scale(1.0)"><polygon points="0,3.9 3.75,-2.7 -3.75,-2.7" fill="#f9d9ea" stroke="#c4157d" stroke-width="1.3" stroke-linejoin="miter"/></g>
<text x="571.4" y="412.1" font-size="15.5" text-anchor="start" font-weight="normal" fill="#111" font-family="Liberation Sans, sans-serif" >hexa-peri-hexabenzocoronene</text>
<polygon points="412.75,457.65 416.85,461.75 412.75,465.85 408.65,461.75" fill="#f8dcc0" stroke="#c2611c" stroke-width="1.3" stroke-linejoin="miter"/>
<g transform="translate(559.7 429.5) scale(1.0)"><polygon points="0,-4.1 4.1,0 0,4.1 -4.1,0" fill="#f8dcc0" stroke="#c2611c" stroke-width="1.3" stroke-linejoin="miter"/></g>
<text x="571.4" y="434.7" font-size="15.5" text-anchor="start" font-weight="normal" fill="#111" font-family="Liberation Sans, sans-serif" >meta-thiophene</text>
<polygon points="329.85,406.5 336.45,402.75 336.45,410.25" fill="#d9dcf8" stroke="#1f2fc8" stroke-width="1.3" stroke-linejoin="miter"/>
<g transform="translate(559.7 452.1) scale(1.0)"><polygon points="-3.9,0 2.7,-3.75 2.7,3.75" fill="#d9dcf8" stroke="#1f2fc8" stroke-width="1.3" stroke-linejoin="miter"/></g>
<text x="571.4" y="457.3" font-size="15.5" text-anchor="start" font-weight="normal" fill="#111" font-family="Liberation Sans, sans-serif" >bipyridine (Ni electrode)</text>
<polygon points="341.4,489.2 334.8,485.45 334.8,492.95" fill="#f8e8c0" stroke="#c8901c" stroke-width="1.3" stroke-linejoin="miter"/>
<g transform="translate(559.7 474.7) scale(1.0)"><polygon points="3.9,0 -2.7,-3.75 -2.7,3.75" fill="#f8e8c0" stroke="#c8901c" stroke-width="1.3" stroke-linejoin="miter"/></g>
<text x="571.4" y="479.9" font-size="15.5" text-anchor="start" font-weight="normal" fill="#111" font-family="Liberation Sans, sans-serif" >bipyridine</text>
<text x="328.3" y="526.3" font-size="13.3" text-anchor="middle" font-weight="normal" fill="#111" font-family="Liberation Sans, sans-serif" >0</text>
<text x="370.5" y="526.3" font-size="13.3" text-anchor="middle" font-weight="normal" fill="#111" font-family="Liberation Sans, sans-serif" >50</text>
<text x="412.7" y="526.3" font-size="13.3" text-anchor="middle" font-weight="normal" fill="#111" font-family="Liberation Sans, sans-serif" >100</text>
<text x="454.9" y="526.3" font-size="13.3" text-anchor="middle" font-weight="normal" fill="#111" font-family="Liberation Sans, sans-serif" >150</text>
<text x="497.1" y="526.3" font-size="13.3" text-anchor="middle" font-weight="normal" fill="#111" font-family="Liberation Sans, sans-serif" >200</text>
<text x="539.3" y="526.3" font-size="13.3" text-anchor="middle" font-weight="normal" fill="#111" font-family="Liberation Sans, sans-serif" >250</text>
<text x="322" y="310.3" font-size="13.3" text-anchor="end" font-weight="normal" fill="#111" font-family="Liberation Sans, sans-serif" >0</text>
<text x="322" y="346.98" font-size="13.3" text-anchor="end" font-weight="normal" fill="#111" font-family="Liberation Sans, sans-serif" >200</text>
<text x="322" y="383.66" font-size="13.3" text-anchor="end" font-weight="normal" fill="#111" font-family="Liberation Sans, sans-serif" >400</text>
<text x="322" y="420.34" font-size="13.3" text-anchor="end" font-weight="normal" fill="#111" font-family="Liberation Sans, sans-serif" >600</text>
<text x="322" y="457.02" font-size="13.3" text-anchor="end" font-weight="normal" fill="#111" font-family="Liberation Sans, sans-serif" >800</text>
<text x="322" y="493.7" font-size="13.3" text-anchor="end" font-weight="normal" fill="#111" font-family="Liberation Sans, sans-serif" >1000</text>
<text x="433.6" y="545" font-size="17" text-anchor="middle" font-weight="normal" fill="#111" font-family="Liberation Sans, sans-serif" >On/off ratio</text>
<text transform="translate(293.4 406) rotate(-90)" font-size="17" text-anchor="middle" fill="#111" font-family="Liberation Sans, sans-serif">SS / (mV dec<tspan font-size="11" dy="-6">-1</tspan><tspan dy="6">)</tspan></text>
</svg>
</body></html>
